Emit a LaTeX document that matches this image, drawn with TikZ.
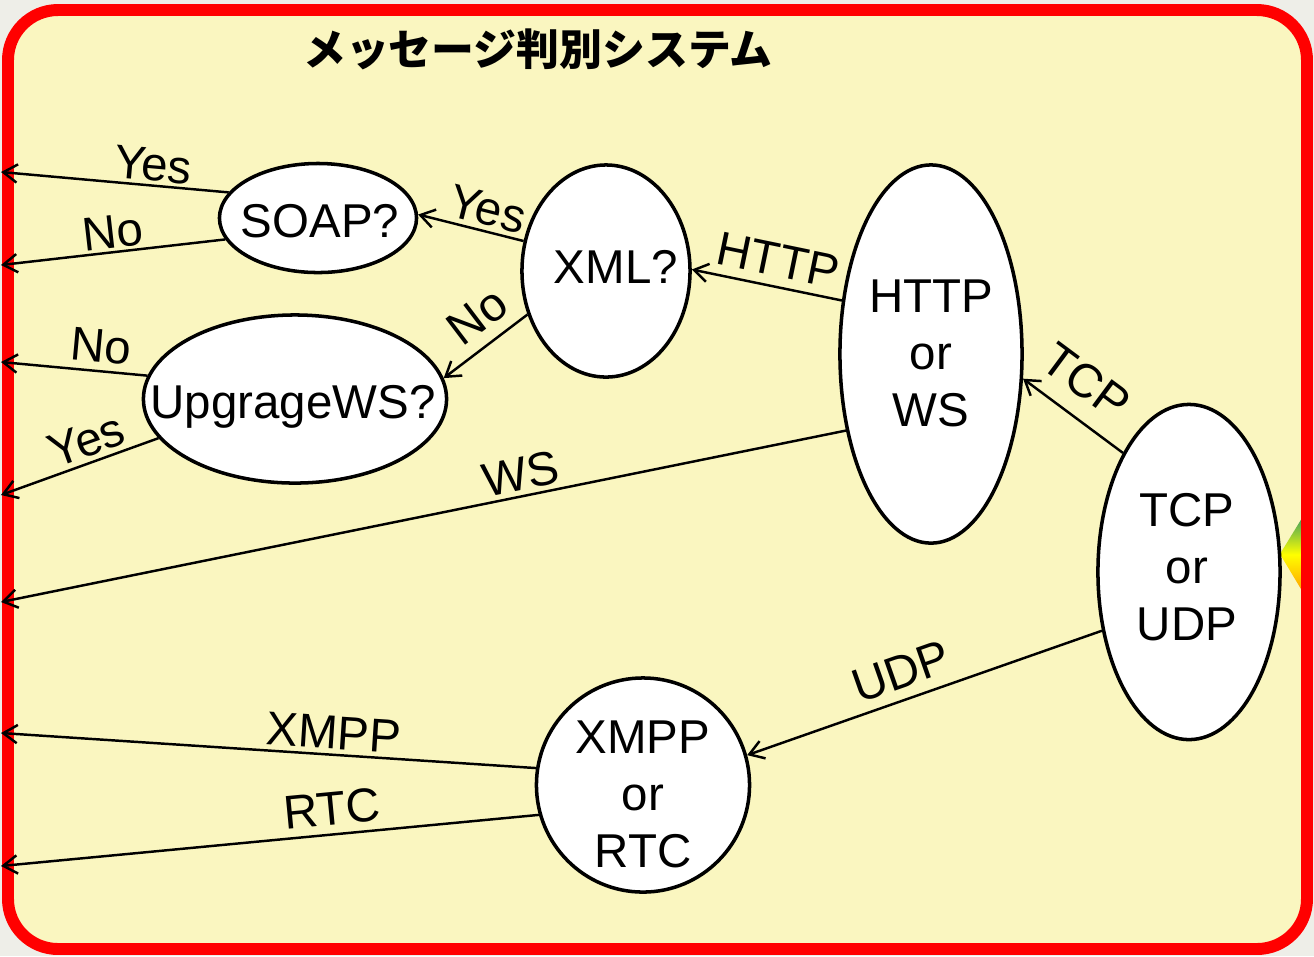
\documentclass[tikz,border=0pt]{standalone}
\usepackage{fontspec}
\setmainfont{Liberation Sans}
\newfontfamily\cjk{Noto Sans CJK JP}
\usetikzlibrary{shapes.geometric,arrows.meta}
\definecolor{paper}{RGB}{250,246,192}
\definecolor{marble}{RGB}{238,238,232}
\tikzset{
	blob/.style={ellipse,draw,fill=white,line width=1pt,inner sep=0pt},
	txt/.style={font=\fontsize{13.5}{16.2}\selectfont,align=center,inner sep=0pt},
	lab/.style={sloped,above,inner sep=1.3pt,font=\fontsize{13.5}{16.2}\selectfont},
	conn/.style={line width=.7pt,->},
	>={Straight Barb[length=4pt,width=5.2pt]}
}
\begin{document}
\begin{tikzpicture}[x=.01cm,y=-.01cm]
	\useasboundingbox (0,0) rectangle (1314,956);
	\fill[marble] (0,0) rectangle (1314,956);
	\fill[paper,rounded corners=.5cm] (8,10) rectangle (1307,949);
	\shade[top color=teal,bottom color=orange,middle color=yellow] (1280,554)--(1310,505)--(1310,604)--cycle;
	\draw[red,line width=3.4pt,rounded corners=.5cm] (8,10) rectangle (1307,949);
	\node[font=\fontsize{12.2}{14}\cjk\bfseries] (title) at (538,49) {メッセージ判別システム};
	\node[blob,minimum width=1.97cm,minimum height=1.09cm] (soap) at (318,218) {};
	\node[blob,minimum width=3.03cm,minimum height=1.68cm] (upg) at (295,399) {};
	\node[blob,minimum width=1.68cm,minimum height=2.12cm] (xml) at (606,271) {};
	\node[blob,minimum width=1.82cm,minimum height=3.78cm] (hw) at (931,354) {};
	\node[blob,minimum width=1.82cm,minimum height=3.35cm] (tu) at (1189,572) {};
	\node[blob,minimum width=2.13cm,minimum height=2.14cm] (xr) at (643,785) {};
	\node[txt,anchor=base] (soapT) at (320,237) {SOAP?};
	\node[txt,anchor=base] (upgT) at (293,418) {UpgrageWS?};
	\node[txt,anchor=base] (xmlT) at (616,283) {XML?};
	\node[txt] (hwT) at (931,353) {HTTP\\or\\WS};
	\node[txt] (tuT) at (1187,567) {TCP\\or\\UDP};
	\node[txt] (xrT) at (643,794) {XMPP\\or\\RTC};
	\coordinate (E1) at (1,172);
	\coordinate (E2) at (1,265);
	\coordinate (E3) at (1,362);
	\coordinate (E4) at (1,495);
	\coordinate (E5) at (1,602);
	\coordinate (E6) at (1,733);
	\coordinate (E7) at (1,866);
	\draw[conn] (hw.149) -- node[lab,pos=.46,inner sep=2.6pt]{HTTP} (xml.1);
	\draw[conn] (xml.160) -- node[lab,pos=.39]{Yes} (soap.2);
	\draw[conn] (xml.209) -- node[lab,pos=.39,inner sep=3.2pt]{No} (upg.8);
	\draw[conn] (soap.164) -- node[lab,pos=.34,inner sep=.8pt]{Yes} (E1);
	\draw[conn] (soap.193) -- node[lab,pos=.49,inner sep=.7pt]{No} (E2);
	\draw[conn] (upg.171) -- node[lab,pos=.33,inner sep=2.1pt]{No} (E3);
	\draw[conn] (upg.196) -- node[lab,pos=.41]{Yes} (E4);
	\draw[conn] (hw.222) -- node[lab,pos=.38]{WS} (E5);
	\draw[conn] (tu.119) -- node[lab,pos=.58,inner sep=5pt]{TCP} (hw.345);
	\draw[conn] (tu.214) -- node[lab,pos=.54,inner sep=2.8pt]{UDP} (xr.16);
	\draw[conn] (xr.171) -- node[lab,pos=.38,inner sep=1.2pt]{XMPP} (E6);
	\draw[conn] (xr.196) -- node[lab,pos=.38,inner sep=2.2pt]{RTC} (E7);
\end{tikzpicture}
\end{document}
